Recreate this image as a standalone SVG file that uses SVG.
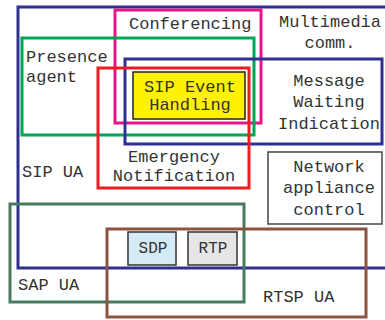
<svg xmlns="http://www.w3.org/2000/svg" width="385" height="320" viewBox="0 0 385 320">
  <style>
    text { font-family: "Liberation Mono", "Courier New", monospace; font-size: 17px; fill: #333; }
    .c { text-anchor: middle; }
    .frame { fill: none; stroke-width: 3; }
    .small { font-size: 16px; }
  </style>
  <rect width="385" height="320" fill="#fff"/>

  <!-- SIP user agent: outer frame -->
  <g id="sip-ua">
    <rect class="frame" x="18" y="7" width="380" height="261" stroke="#2e3192"/>
    <text x="22" y="177">SIP UA</text>
  </g>

  <g id="conferencing">
    <rect class="frame" x="115" y="10" width="146" height="113" stroke="#e8138a"/>
    <text x="129" y="29">Conferencing</text>
  </g>

  <g id="presence-agent">
    <rect class="frame" x="22" y="38" width="232" height="97" stroke="#00a651"/>
    <text x="26" y="62">Presence</text>
    <text x="26" y="82">agent</text>
  </g>

  <g id="message-waiting">
    <rect class="frame" x="125" y="59" width="257" height="85" stroke="#2e3192"/>
    <text class="c" x="329" y="86">Message</text>
    <text class="c" x="329" y="107">Waiting</text>
    <text class="c" x="329" y="129">Indication</text>
  </g>

  <g id="emergency-notification">
    <rect class="frame" x="98" y="68" width="151" height="120" stroke="#ed1c24"/>
    <text class="c" x="174" y="162">Emergency</text>
    <text class="c" x="174" y="181">Notification</text>
  </g>

  <g id="sip-event-handling">
    <rect x="133" y="72" width="112" height="47" fill="#fff200" stroke="#222" stroke-width="1.5"/>
    <text class="c" x="190" y="92">SIP Event</text>
    <text class="c" x="190" y="110">Handling</text>
  </g>

  <g id="multimedia-comm">
    <text class="c" x="330" y="27">Multimedia</text>
    <text class="c" x="330" y="48">comm.</text>
  </g>

  <g id="network-appliance-control">
    <rect x="268" y="152" width="114" height="72" fill="#fff" stroke="#444" stroke-width="1.5"/>
    <text class="c" x="329" y="172">Network</text>
    <text class="c" x="329" y="193">appliance</text>
    <text class="c" x="329" y="215">control</text>
  </g>

  <g id="sap-ua">
    <rect class="frame" x="10" y="204" width="234" height="98" stroke="#4a7a5e"/>
    <text x="18" y="290">SAP UA</text>
  </g>

  <g id="rtsp-ua">
    <rect class="frame" x="107" y="229" width="259" height="88" stroke="#8b5442"/>
    <text x="263" y="302">RTSP UA</text>
  </g>

  <g id="sdp">
    <rect x="128" y="232" width="48" height="33" fill="#d4eaf7" stroke="#333" stroke-width="1.5"/>
    <text class="c small" x="153" y="253">SDP</text>
  </g>

  <g id="rtp">
    <rect x="188" y="232" width="49" height="33" fill="#e6e6e6" stroke="#333" stroke-width="1.5"/>
    <text class="c small" x="213" y="253">RTP</text>
  </g>

  <g id="connectors"></g>
</svg>
